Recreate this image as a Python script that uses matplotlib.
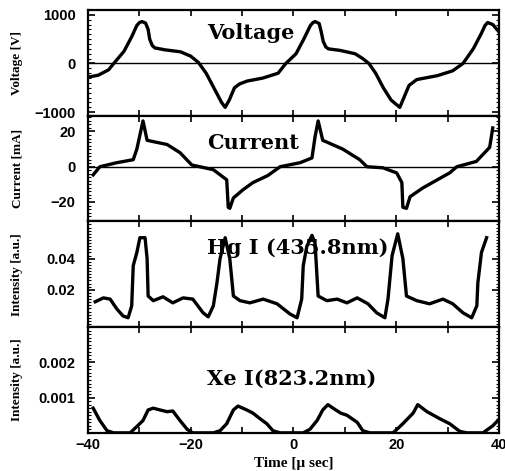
import matplotlib
matplotlib.use('Agg')
import matplotlib.pyplot as plt
from matplotlib.ticker import MultipleLocator, FixedLocator

# time axis [us] and traces
volt_t = [-40, -38, -36, -35, -33, -31.5, -30.5, -30, -29.5, -28.8, -28.3, -28, -27.5, -27, -25,
          -22, -20, -18.5, -17, -15.5, -14, -13.3, -12.5, -11.5, -10.5, -9, -6, -3, -1.5, 0.5,
          2, 3.3, 3.8, 4.2, 5, 5.4, 5.8, 6.3, 6.8, 9, 12, 13.5, 14.7, 16, 17.5, 19, 20.7, 21.5,
          22.5, 24, 28, 31, 33, 35, 36.5, 37.3, 37.8, 38.8, 40]
volt_v = [-280, -240, -130, 0, 250, 550, 780, 840, 860, 830, 700, 500, 370, 320, 280,
          240, 150, 20, -200, -500, -800, -900, -750, -500, -420, -360, -300, -200, 0, 200,
          500, 780, 840, 860, 820, 650, 450, 340, 300, 270, 200, 100, 0, -200, -500, -750, -900,
          -700, -450, -330, -250, -150, 0, 300, 600, 780, 840, 800, 650]

cur_t = [-39, -37.7, -34.4, -31.2, -30.5, -29.3, -28.5, -24.6, -22.1, -19.8, -15.6, -13, -12.7,
         -12.4, -11.7, -9.8, -7.9, -5, -2.6, 1.3, 3.6, 4.2, 4.8, 5.7, 9.6, 12.9, 14.3, 17.4,
         20.1, 21.1, 21.3, 22.0, 22.7, 25.2, 30.4, 31.8, 35.6, 38.2, 38.8]
cur_v = [-4.6, 0, 2.3, 4, 10, 26, 15, 12.6, 8, 1, -1.7, -7.4, -23, -23.6, -17.7, -13, -9,
         -5, 0, 2.3, 5, 17, 26, 15, 10, 4, 0, -0.6, -3.5, -9, -23, -23.6, -17, -12, -3.5,
         0, 3, 11, 22]

hg_t = [-38.6, -37, -35.7, -34.4, -33.2, -32.2, -31.5, -31.2, -30.5, -29.9, -28.9, -28.5, -28.3,
        -27.3, -25.4, -23.5, -21.5, -19.6, -17.6, -16.6, -15.6, -14.9, -14.3, -13.3, -12.4,
        -11.7, -10.4, -8.5, -5.9, -3.2, -0.7, 0.7, 1.6, 1.9, 2.6, 3.6, 4.2, 4.8, 6.5, 8.5,
        10.4, 12.4, 14.5, 16.2, 17.8, 18.4, 19.2, 20.3, 21.3, 22, 24, 26.5, 29.1, 31, 33,
        34.7, 35.7, 35.9, 36.6, 37.6]
hg_v = [0.0123, 0.0148, 0.014, 0.0077, 0.0032, 0.002, 0.0097, 0.0355, 0.044, 0.0535, 0.0535,
        0.04, 0.016, 0.013, 0.0155, 0.0116, 0.0148, 0.014, 0.0052, 0.0026, 0.0097, 0.0245,
        0.04, 0.0535, 0.04, 0.016, 0.013, 0.0116, 0.014, 0.011, 0.0045, 0.002, 0.014, 0.0355,
        0.048, 0.055, 0.05, 0.016, 0.013, 0.014, 0.0116, 0.0148, 0.011, 0.0052, 0.002, 0.014,
        0.042, 0.056, 0.04, 0.016, 0.013, 0.011, 0.014, 0.011, 0.0052, 0.002, 0.0097, 0.0245,
        0.044, 0.0535]

xe_t = [-39, -37.7, -36.3, -35, -31.8, -30.5, -29.3, -28.3, -27.3, -26, -24.6, -23.5, -22.1,
        -20.7, -19.6, -15.6, -14.3, -13, -11.7, -10.8, -9.1, -7.9, -6.5, -5.2, -4, -2.6, 1.9,
        3.2, 4.6, 5.7, 6.7, 7.7, 9.2, 10.4, 12.4, 13.5, 14.9, 19.4, 21.3, 23.3, 24.2, 26,
        28.5, 30.4, 32.4, 33.8, 36.9, 38.8, 39.8]
xe_v = [0.0007, 0.00035, 0.00006, 0, 0, 0.00018, 0.00035, 0.00065, 0.0007, 0.00065, 0.0006,
        0.00062, 0.00035, 0.0001, 0, 0, 0.00006, 0.00026, 0.00065, 0.00076, 0.00065, 0.00056,
        0.0004, 0.00026, 0.00006, 0, 0, 0.0001, 0.00035, 0.00065, 0.0008, 0.0007, 0.00056,
        0.0005, 0.0003, 0.00006, 0, 0, 0.00026, 0.00056, 0.0008, 0.0006, 0.0004, 0.00026,
        0.00004, 0, 0, 0.0002, 0.00035]

serif = 'DejaVu Serif'
lab_font = dict(family='Liberation Serif', weight='bold', size=9.5)

fig, axes = plt.subplots(4, 1, sharex=True, figsize=(5.06, 4.71), dpi=100)
fig.subplots_adjust(left=0.174, right=0.986, top=0.979, bottom=0.081, hspace=0)

panels = [
    (volt_t, volt_v, (-1070, 1100), [-1000, 0, 1000], ['\u22121000', '0', '1000'], 100,
     'Voltage', 'Voltage [V]', 0.78, True),
    (cur_t, cur_v, (-31, 29), [-20, 0, 20], ['\u221220', '0', '20'], 2,
     'Current', 'Current [mA]', 0.74, True),
    (hg_t, hg_v, (-0.004, 0.064), [0.02, 0.04], ['0.02', '0.04'], 0.002,
     'Hg I (435.8nm)', 'Intensity [a.u.]', 0.75, False),
    (xe_t, xe_v, (0, 0.003), [0.001, 0.002], ['0.001', '0.002'], 0.0001,
     'Xe I(823.2nm)', 'Intensity [a.u.]', 0.51, False),
]

for ax, (t, v, ylim, yt, ytl, ymin, title, ylab, ty, zero) in zip(axes, panels):
    ax.plot(t, v, color='black', lw=2.4, solid_joinstyle='round')
    if zero:
        ax.axhline(0, color='black', lw=1.0)
    ax.set_ylim(*ylim)
    ax.set_xlim(-40, 40)
    ax.yaxis.set_major_locator(FixedLocator(yt))
    ax.set_yticklabels(ytl, family='Liberation Sans', weight='bold', fontsize=10.5)
    ax.yaxis.set_minor_locator(MultipleLocator(ymin))
    ax.xaxis.set_major_locator(MultipleLocator(20))
    ax.xaxis.set_minor_locator(MultipleLocator(10))
    ax.tick_params(which='both', direction='in', top=True, right=True, width=1.2)
    ax.tick_params(axis='x', which='both', length=4)
    ax.tick_params(axis='y', which='major', length=5, pad=9)
    ax.tick_params(axis='y', which='minor', length=2.5, width=0.8)
    for s in ax.spines.values():
        s.set_linewidth(1.6)
    ax.set_ylabel(ylab, fontdict=lab_font)
    ax.yaxis.set_label_coords(-0.158, 0.5)
    ax.text(0.29, ty, title, transform=ax.transAxes, family=serif, weight='bold',
            fontsize=15, va='center', ha='left')

axes[-1].set_xticks([-40, -20, 0, 20, 40])
axes[-1].set_xticklabels(['\u221240', '\u221220', '0', '20', '40'],
                         family='Liberation Sans', weight='bold', fontsize=10.5)
axes[-1].set_xlabel('Time [\u03bc sec]', family='Liberation Serif', weight='bold', fontsize=11)

plt.savefig('out.png', dpi=100)
